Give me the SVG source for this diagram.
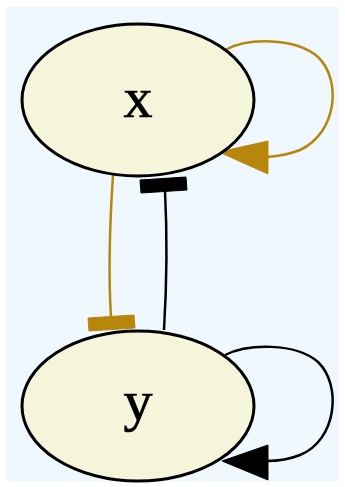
<svg xmlns="http://www.w3.org/2000/svg" width="345" height="487" viewBox="0 0 345 487">
  <style>
    .node ellipse { fill: #f5f5dc; stroke: #000; stroke-width: 3; }
    .node text { font-family: "Liberation Serif", "Times New Roman", serif; font-size: 58px; text-anchor: middle; fill: #000; stroke: #000; stroke-width: 0.7; }
    .edge { fill: none; stroke-width: 2.5; }
    .gold { stroke: #b8860b; }
    .black { stroke: #000; }
    .head-gold { fill: #b8860b; stroke: #b8860b; stroke-width: 1; }
    .head-black { fill: #000; stroke: #000; stroke-width: 1; }
  </style>
  <rect x="6" y="7" width="333" height="474" fill="#f0f8ff"/>

  <g id="edges">
    <!-- x -> x : activation loop -->
    <g id="edge-x-x">
      <path class="edge gold" d="M225,50 C247,38 295,37 318,57 C342,80 337,133 300,150 C290,154 280,156 267,157"/>
      <polygon class="head-gold" points="268,141 219,152 268,174"/>
    </g>
    <!-- x -| y : inhibition -->
    <g id="edge-x-y">
      <path class="edge gold" d="M113,175 C110,220 108,270 111,317"/>
      <polygon class="head-gold" points="88,318 134,315 135,328 89,331"/>
    </g>
    <!-- y -| x : inhibition -->
    <g id="edge-y-x">
      <path class="edge black" d="M164,330 C167,280 167,230 165,191"/>
      <polygon class="head-black" points="140,180 186,177 187,190 141,193"/>
    </g>
    <!-- y -> y : activation loop -->
    <g id="edge-y-y">
      <path class="edge black" d="M225,355 C247,344 295,342 318,362 C342,385 337,440 300,455 C290,459 280,461 267,461"/>
      <polygon class="head-black" points="268,445 222,461 268,480"/>
    </g>
  </g>

  <g id="node-x" class="node">
    <ellipse cx="138" cy="100" rx="116" ry="76"/>
    <text x="138" y="117">x</text>
  </g>
  <g id="node-y" class="node">
    <ellipse cx="138" cy="406" rx="116" ry="75"/>
    <text x="138" y="420">y</text>
  </g>
</svg>
